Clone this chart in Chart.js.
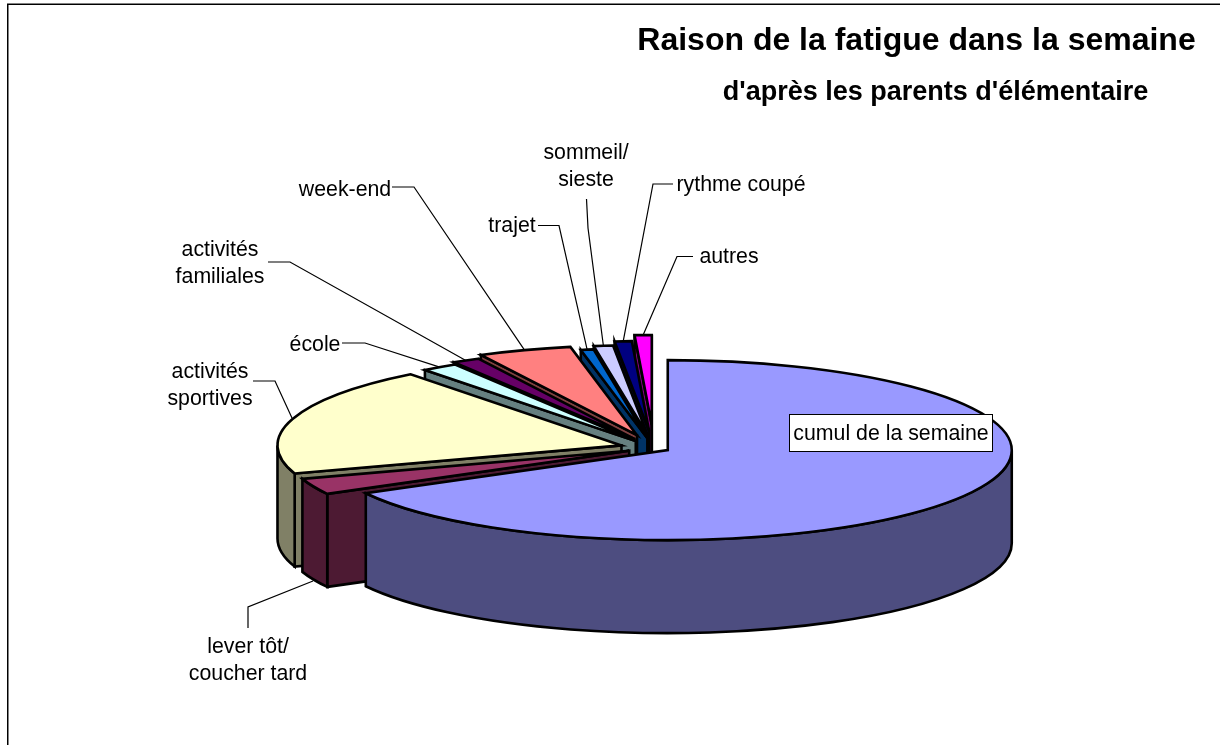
<!DOCTYPE html>
<html><head><meta charset="utf-8">
<style>html,body{margin:0;padding:0;background:#fff}canvas{display:block}</style>
<script src="https://cdn.jsdelivr.net/npm/chart.js@4"></script>
</head><body>
<canvas id="c" width="1220" height="745"></canvas>
<script>
// Data
const categories = ["cumul de la semaine","lever tôt/ coucher tard","activités sportives","école","activités familiales","week-end","trajet","sommeil/ sieste","rythme coupé","autres"];
const values = [67.05,2.9,19.55,1.7,1.3,4.4,0.6,0.9,0.8,0.8];
const titleText = "Raison de la fatigue dans la semaine";
const subtitleText = "d'après les parents d'élémentaire";
// Style
const topColors = ["#9999FF","#993366","#FFFFCC","#CCFFFF","#660066","#FF8080","#0066CC","#CCCCFF","#000080","#FF00FF"];
const wallColors = ["#4D4D80","#4D1A33","#808066","#668080","#330033","#804040","#003366","#666680","#000040","#800080"];
const explode = [16,27,34,32,40,52,38,50,65,88];
const SQUASH = 0.2616, DEPTH = 93, RADIUS = 344;
// label layout: text lines, centre x, first line middle y, elbow points of the leader
const labelLayout = [
 {lines:["cumul de la semaine"],x:891,y:434,box:[789,414,204,38]},
 {lines:["lever tôt/","coucher tard"],x:248,y:647,pts:[[248,628],[248,607]]},
 {lines:["activités","sportives"],x:210,y:372,pts:[[253,381],[275,381]]},
 {lines:["école"],x:315,y:345,pts:[[342,343],[365,343]]},
 {lines:["activités","familiales"],x:220,y:250,pts:[[268,262],[290,262]]},
 {lines:["week-end"],x:345,y:190,pts:[[392,187],[414,187]]},
 {lines:["trajet"],x:512,y:226,pts:[[538,225.5],[559,225.5]]},
 {lines:["sommeil/","sieste"],x:586,y:153,pts:[[586.5,199],[588,228]]},
 {lines:["rythme coupé"],x:741,y:185,pts:[[673,184],[653,184]]},
 {lines:["autres"],x:729,y:257,pts:[[693,256.5],[677,256.5]]}
];
const FONT = '"Liberation Sans", Arial, sans-serif';

const pie3d = {
  id:'pie3d',
  beforeDatasetsDraw(chart){
    const ctx = chart.ctx, arcs = chart.getDatasetMeta(0).data;
    const geom = arcs.map((el,i)=>{
      const p = el.getProps(['x','y','startAngle','endAngle','outerRadius'],true);
      const mid = (p.startAngle+p.endAngle)/2, e = el.options.offset;
      return {i, a0:p.startAngle, a1:p.endAngle, r:p.outerRadius, mid,
              x:p.x+Math.cos(mid)*e, y:p.y+Math.sin(mid)*e*SQUASH};
    });
    const rim=(g,a)=>[g.x+Math.cos(a)*g.r, g.y+Math.sin(a)*g.r*SQUASH];
    ctx.save();
    ctx.lineWidth=2.6; ctx.lineJoin='miter'; ctx.miterLimit=6; ctx.strokeStyle='#000';
    const paint=c=>{ctx.fillStyle=c;ctx.fill();ctx.stroke();};
    const face=(g,a)=>{
      const [rx,ry]=rim(g,a);
      ctx.beginPath();ctx.moveTo(g.x,g.y);ctx.lineTo(rx,ry);ctx.lineTo(rx,ry+DEPTH);ctx.lineTo(g.x,g.y+DEPTH);ctx.closePath();
      paint(wallColors[g.i]);
    };
    for(let n=geom.length-1;n>=0;n--){
      const g=geom[n];
      if(Math.cos(g.a0)<0) face(g,g.a0);
      if(Math.cos(g.a1)>0) face(g,g.a1);
      // outer wall on the front half of the rim
      const b0=Math.max(g.a0,0), b1=Math.min(g.a1,Math.PI);
      if(b1>b0){
        ctx.beginPath();
        ctx.ellipse(g.x,g.y,g.r,g.r*SQUASH,0,b0,b1);
        ctx.ellipse(g.x,g.y+DEPTH,g.r,g.r*SQUASH,0,b1,b0,true);
        ctx.closePath();
        paint(wallColors[g.i]);
      }
      // top face
      ctx.beginPath();ctx.moveTo(g.x,g.y);
      ctx.ellipse(g.x,g.y,g.r,g.r*SQUASH,0,g.a0,g.a1);
      ctx.closePath();
      paint(topColors[g.i]);
    }
    // leaders
    ctx.lineWidth=1.2;ctx.strokeStyle='#000';
    labelLayout.forEach((l,i)=>{
      if(!l.pts) return;
      const g=geom[i]; let end=rim(g,g.mid);
      if(i===1) end=[313,581];
      if(i===2) end=[292,418];
      ctx.beginPath();ctx.moveTo(l.pts[0][0],l.pts[0][1]);ctx.lineTo(l.pts[1][0],l.pts[1][1]);ctx.lineTo(end[0],end[1]);ctx.stroke();
    });
    ctx.restore();
    return false;
  },
  afterDraw(chart){
    const ctx=chart.ctx;
    ctx.save();
    // frame
    ctx.fillStyle='#808080';ctx.fillRect(7,3,1213,1);ctx.fillRect(8,4,1,741);
    ctx.fillStyle='#000';ctx.fillRect(7,4,1213,1);ctx.fillRect(7,4,1,741);
    ctx.textAlign='center';ctx.textBaseline='middle';ctx.fillStyle='#000';
    ctx.font='bold 32px '+FONT;ctx.fillText(titleText,916.5,41);
    ctx.font='bold 27px '+FONT;ctx.fillText(subtitleText,935.5,92.5);
    ctx.font='21.3px '+FONT;
    labelLayout.forEach(l=>{
      if(l.box){ctx.fillStyle='#fff';ctx.fillRect(...l.box);ctx.lineWidth=1;ctx.strokeStyle='#000';ctx.strokeRect(l.box[0]+.5,l.box[1]+.5,l.box[2]-1,l.box[3]-1);ctx.fillStyle='#000';}
      l.lines.forEach((t,k)=>ctx.fillText(t,l.x,l.y+k*27));
    });
    ctx.restore();
  }
};

new Chart(document.getElementById('c'),{
  type:'pie',
  data:{labels:categories,datasets:[{data:values,backgroundColor:topColors,borderColor:'#000',offset:explode}]},
  options:{
    responsive:false,animation:false,radius:RADIUS,
    layout:{padding:{left:88,top:151,right:0,bottom:0}},
    plugins:{legend:{display:false},title:{display:false},tooltip:{enabled:false}},
    events:[]
  },
  plugins:[pie3d]
});
</script>
</body></html>
